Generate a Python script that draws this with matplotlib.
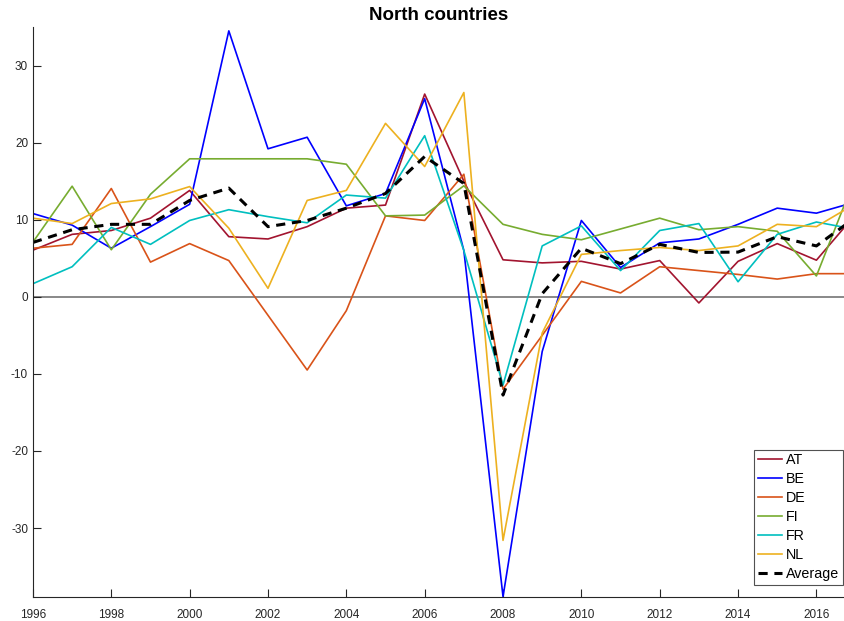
import matplotlib
matplotlib.use("Agg")
import matplotlib.pyplot as plt
import numpy as np

plt.rcParams['font.family'] = ['Liberation Sans', 'DejaVu Sans']
plt.rcParams['axes.unicode_minus'] = False

years = np.arange(1996, 2018)

AT = [6.05, 8.1, 8.6, 10.2, 13.8, 7.8, 7.5, 9.1, 11.5, 11.9, 26.3, 15.0,
      4.8, 4.4, 4.6, 3.6, 4.7, -0.8, 4.6, 6.9, 4.75, 10.7]
BE = [10.8, 9.3, 6.3, 9.1, 12.0, 34.5, 19.2, 20.7, 11.8, 13.4, 25.7, 6.0,
      -38.9, -7.1, 9.9, 3.8, 7.0, 7.5, 9.4, 11.5, 10.85, 12.3]
DE = [6.3, 6.8, 14.05, 4.5, 6.9, 4.7, -2.4, -9.5, -1.8, 10.5, 9.9, 15.9,
      -12.0, -5.0, 2.0, 0.5, 3.9, 3.4, 2.9, 2.3, 3.0, 3.0]
FI = [7.1, 14.35, 6.1, 13.3, 17.9, 17.9, 17.9, 17.9, 17.2, 10.5, 10.6, 14.4,
      9.4, 8.1, 7.4, 8.8, 10.2, 8.7, 9.1, 8.5, 2.7, 15.6]
FR = [1.7, 3.9, 9.0, 6.8, 9.9, 11.3, 10.4, 9.6, 13.2, 12.8, 20.9, 6.0,
      -11.45, 6.6, 9.2, 3.4, 8.6, 9.5, 1.95, 8.1, 9.7, 8.74]
NL = [10.2, 9.5, 12.1, 12.7, 14.3, 8.9, 1.1, 12.5, 13.8, 22.5, 16.9, 26.5,
      -31.6, -4.7, 5.5, 6.0, 6.4, 6.0, 6.6, 9.4, 9.1, 12.1]
Average = [7.05, 8.7, 9.4, 9.4, 12.5, 14.1, 9.1, 9.9, 11.5, 13.4, 18.2, 14.7,
           -12.75, 0.4, 6.3, 4.3, 6.8, 5.75, 5.8, 7.8, 6.6, 10.3]

series = [("AT", AT, (0.635, 0.078, 0.184)),
          ("BE", BE, (0.0, 0.0, 1.0)),
          ("DE", DE, (0.85, 0.325, 0.098)),
          ("FI", FI, (0.466, 0.674, 0.188)),
          ("FR", FR, (0.0, 0.75, 0.75)),
          ("NL", NL, (0.929, 0.694, 0.125))]

fig = plt.figure(figsize=(8.45, 6.21), dpi=100)
ax = fig.add_axes([0.039, 0.038, 0.961, 0.9185])

ax.axhline(0, color='#7f7f7f', lw=1.3, zorder=1)
for name, vals, col in series:
    ax.plot(years, vals, color=col, lw=1.2, label=name)
ax.plot(years, Average, color='black', lw=2.2, ls=(0, (3, 2.2)), label='Average')

ax.set_xlim(1996, 2016.73)
ax.set_ylim(-39, 35)
ax.set_xticks(np.arange(1996, 2017, 2))
ax.set_yticks(np.arange(-30, 31, 10))
ax.tick_params(direction='in', length=6, width=0.8, colors='#262626',
               labelsize=8.5)
ax.tick_params(axis='x', pad=8)
for s in ['top', 'right']:
    ax.spines[s].set_visible(False)
for s in ['left', 'bottom']:
    ax.spines[s].set_color('#262626')
    ax.spines[s].set_linewidth(0.8)

ax.set_title("North countries", fontsize=13.5, fontweight='bold', pad=5)

leg = ax.legend(loc='lower right', bbox_to_anchor=(842.7 / 845, 36 / 621),
                bbox_transform=fig.transFigure, borderaxespad=0,
                fontsize=10.3, frameon=True, fancybox=False,
                handlelength=1.65, handletextpad=0.3, borderpad=0.25,
                labelspacing=0.35)
leg.get_frame().set_edgecolor('#262626')
leg.get_frame().set_linewidth(0.8)

fig.savefig("out.png", dpi=100)
